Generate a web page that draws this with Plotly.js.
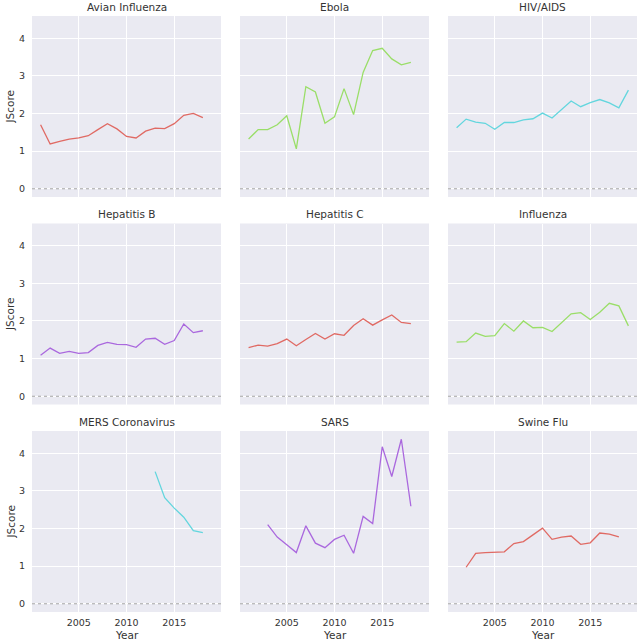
<!DOCTYPE html>
<html>
<head>
<meta charset="utf-8">
<script src="https://cdn.plot.ly/plotly-3.0.1.min.js"></script>
<style>html,body{margin:0;padding:0;background:#fff;}#chart{width:642px;height:643px;}</style>
</head>
<body>
<div id="chart"></div>
<script>
// ---- data ----
const diseases = ["Avian Influenza","Ebola","HIV/AIDS","Hepatitis B","Hepatitis C","Influenza","MERS Coronavirus","SARS","Swine Flu"];

const avianYears = [2001,2002,2003,2004,2005,2006,2007,2008,2009,2010,2011,2012,2013,2014,2015,2016,2017,2018];
const avianScore = [1.70,1.19,1.26,1.32,1.35,1.41,1.57,1.73,1.59,1.39,1.35,1.53,1.61,1.60,1.73,1.95,2.00,1.89];

const ebolaYears = [2001,2002,2003,2004,2005,2006,2007,2008,2009,2010,2011,2012,2013,2014,2015,2016,2017,2018];
const ebolaScore = [1.32,1.57,1.57,1.70,1.94,1.06,2.71,2.57,1.74,1.91,2.66,1.97,3.09,3.67,3.73,3.45,3.29,3.36];

const hivYears = [2001,2002,2003,2004,2005,2006,2007,2008,2009,2010,2011,2012,2013,2014,2015,2016,2017,2018,2019];
const hivScore = [1.62,1.85,1.77,1.74,1.58,1.76,1.76,1.83,1.86,2.01,1.88,2.10,2.33,2.18,2.29,2.37,2.28,2.15,2.62];

const hepBYears = [2001,2002,2003,2004,2005,2006,2007,2008,2009,2010,2011,2012,2013,2014,2015,2016,2017,2018];
const hepBScore = [1.09,1.28,1.14,1.19,1.14,1.16,1.35,1.43,1.38,1.37,1.30,1.52,1.54,1.38,1.48,1.92,1.69,1.74];

const hepCYears = [2001,2002,2003,2004,2005,2006,2007,2008,2009,2010,2011,2012,2013,2014,2015,2016,2017,2018];
const hepCScore = [1.29,1.36,1.33,1.40,1.52,1.34,1.51,1.67,1.52,1.66,1.62,1.88,2.06,1.89,2.03,2.16,1.96,1.93];

const fluYears = [2001,2002,2003,2004,2005,2006,2007,2008,2009,2010,2011,2012,2013,2014,2015,2016,2017,2018,2019];
const fluScore = [1.44,1.45,1.68,1.59,1.61,1.93,1.73,2.00,1.82,1.83,1.72,1.96,2.19,2.22,2.04,2.23,2.47,2.40,1.87];

const mersYears = [2013,2014,2015,2016,2017,2018];
const mersScore = [3.51,2.82,2.54,2.30,1.94,1.89];

const sarsYears = [2003,2004,2005,2006,2007,2008,2009,2010,2011,2012,2013,2014,2015,2016,2017,2018];
const sarsScore = [2.10,1.77,1.57,1.36,2.07,1.61,1.49,1.71,1.82,1.34,2.32,2.13,4.17,3.38,4.37,2.59];

const swineYears = [2002,2003,2004,2005,2006,2007,2008,2009,2010,2011,2012,2013,2014,2015,2016,2017,2018];
const swineScore = [0.97,1.34,1.36,1.37,1.38,1.60,1.65,1.83,2.01,1.71,1.77,1.80,1.58,1.62,1.88,1.85,1.78];

const xTickVals = [2005, 2010, 2015];
const xTickText = ["2005", "2010", "2015"];
const yTickVals = [0, 1, 2, 3, 4];
const yTickText = ["0", "1", "2", "3", "4"];

// ---- styling ----
const palette = ["#e06a64", "#9ade68", "#63d6de", "#aa68de"];
const series = [
  [avianYears, avianScore], [ebolaYears, ebolaScore], [hivYears, hivScore],
  [hepBYears, hepBScore], [hepCYears, hepCScore], [fluYears, fluScore],
  [mersYears, mersScore], [sarsYears, sarsScore], [swineYears, swineScore]
];

const W = 642, H = 643;
const colPx = [[32, 221], [240, 429], [448, 637]];
const rowPx = [[16, 197], [223.5, 404.5], [431, 612]];
const font = "DejaVu Sans, Liberation Sans, sans-serif";
const txt = "#333333";

const traces = [];
const layout = {
  width: W, height: H,
  margin: {l: 0, r: 0, t: 0, b: 0},
  paper_bgcolor: "#ffffff",
  plot_bgcolor: "#eaeaf2",
  showlegend: false,
  font: {family: font, color: txt, size: 10},
  annotations: [],
  shapes: []
};

for (let i = 0; i < 9; i++) {
  const r = Math.floor(i / 3), c = i % 3;
  const ax = i === 0 ? "" : String(i + 1);
  traces.push({
    type: "scatter", mode: "lines",
    x: series[i][0], y: series[i][1],
    xaxis: "x" + ax, yaxis: "y" + ax,
    line: {color: palette[i % 4], width: 1.3},
    hoverinfo: "skip"
  });
  const xd = [colPx[c][0] / W, colPx[c][1] / W];
  const yd = [1 - rowPx[r][1] / H, 1 - rowPx[r][0] / H];
  layout["xaxis" + ax] = {
    domain: xd, anchor: "y" + ax,
    range: [2000.1, 2019.9],
    tickvals: xTickVals, ticktext: xTickText,
    showticklabels: r === 2,
    ticks: "outside", ticklen: 2, tickcolor: "rgba(0,0,0,0)",
    tickfont: {family: font, size: 9.5, color: txt},
    showgrid: true, gridcolor: "#ffffff", gridwidth: 1,
    zeroline: false, showline: false
  };
  layout["yaxis" + ax] = {
    domain: yd, anchor: "x" + ax,
    range: [-0.2185, 4.589],
    tickvals: yTickVals, ticktext: yTickText,
    showticklabels: c === 0,
    ticks: "outside", ticklen: 4, tickcolor: "rgba(0,0,0,0)",
    tickfont: {family: font, size: 9.5, color: txt},
    showgrid: true, gridcolor: "#ffffff", gridwidth: 1,
    zeroline: false, showline: false
  };
  // subplot title
  layout.annotations.push({
    text: diseases[i], xref: "paper", yref: "paper",
    x: (xd[0] + xd[1]) / 2, y: yd[1], yanchor: "bottom", xanchor: "center",
    yshift: 1, showarrow: false,
    font: {family: font, size: 10.5, color: txt}
  });
  // dotted reference line at zero
  layout.shapes.push({
    type: "line", xref: "x" + ax + " domain", yref: "y" + ax,
    x0: 0, x1: 1, y0: 0, y1: 0,
    line: {color: "#9a9a9a", width: 0.9, dash: "dot"},
    layer: "above"
  });
  if (c === 0) {
    layout.annotations.push({
      text: "JScore", xref: "paper", yref: "paper",
      x: 10 / W, y: (yd[0] + yd[1]) / 2, xanchor: "center", yanchor: "middle",
      textangle: -90, showarrow: false,
      font: {family: font, size: 10.5, color: txt}
    });
  }
  if (r === 2) {
    layout.annotations.push({
      text: "Year", xref: "paper", yref: "paper",
      x: (xd[0] + xd[1]) / 2, y: 1 - 635 / H, xanchor: "center", yanchor: "middle",
      showarrow: false,
      font: {family: font, size: 10.5, color: txt}
    });
  }
}

Plotly.newPlot("chart", traces, layout, {staticPlot: true, displayModeBar: false});
</script>
</body>
</html>
